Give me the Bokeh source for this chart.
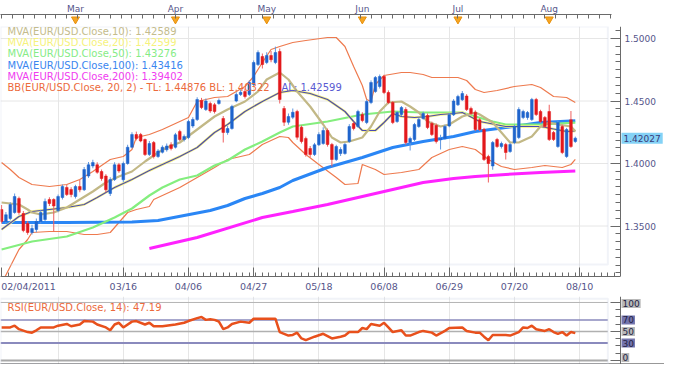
from bokeh.plotting import figure
from bokeh.models import (Range1d, FixedTicker, NumeralTickFormatter, Label, LinearAxis,
                          BoxAnnotation, ColumnDataSource)
from bokeh.layouts import column
from bokeh.embed import file_html
from bokeh.resources import INLINE

FONT = "DejaVu Sans"
AXIS_TEXT = "#55558a"

# ---------------- data (EUR/USD daily, 02/04/2011 .. 08/09/2011) ----------------
opens = [1.3632, 1.3536, 1.3560, 1.3608, 1.3720, 1.3600, 1.3520, 1.3448, 1.3472, 1.3536,
         1.3552, 1.3712, 1.3712, 1.3624, 1.3728, 1.3808, 1.3792, 1.3736, 1.3816, 1.3790,
         1.3900, 1.3980, 1.3990, 1.3936, 1.3900, 1.3760, 1.3872, 1.3990, 1.3870, 1.4000,
         1.4130, 1.4232, 1.4232, 1.4192, 1.4072, 1.4168, 1.4056, 1.4090, 1.4110, 1.4150,
         1.4130, 1.4256, 1.4192, 1.4208, 1.4300, 1.4352, 1.4504, 1.4432, 1.4480, 1.4470,
         1.4480, 1.4360, 1.4248, 1.4280, 1.4500, 1.4552, 1.4576, 1.4552, 1.4632, 1.4792,
         1.4856, 1.4808, 1.4864, 1.4808, 1.4896, 1.4440, 1.4330, 1.4370, 1.4416, 1.4290,
         1.4200, 1.4120, 1.4072, 1.4150, 1.4160, 1.4264, 1.4152, 1.4032, 1.4080, 1.4080,
         1.4176, 1.4320, 1.4296, 1.4392, 1.4328, 1.4488, 1.4576, 1.4616, 1.4696, 1.4568,
         1.4488, 1.4336, 1.4392, 1.4432, 1.4168, 1.4192, 1.4296, 1.4360, 1.4384, 1.4320,
         1.4304, 1.4190, 1.4200, 1.4300, 1.4390, 1.4470, 1.4510, 1.4540, 1.4440, 1.4410,
         1.4350, 1.4272, 1.4056, 1.3980, 1.4192, 1.4136, 1.4152, 1.4096, 1.4168, 1.4208,
         1.4368, 1.4368, 1.4352, 1.4512, 1.4416, 1.4368, 1.4416, 1.4248, 1.4136, 1.4296,
         1.4056, 1.4350, 1.4176]
highs = [1.3668, 1.3612, 1.3690, 1.3760, 1.3735, 1.3620, 1.3540, 1.3510, 1.3560, 1.3630,
         1.3720, 1.3730, 1.3722, 1.3752, 1.3832, 1.3830, 1.3810, 1.3830, 1.3868, 1.3972,
         1.4012, 1.4030, 1.4010, 1.3952, 1.3915, 1.3890, 1.4010, 1.4005, 1.4015, 1.4150,
         1.4250, 1.4255, 1.4245, 1.4200, 1.4180, 1.4180, 1.4115, 1.4145, 1.4160, 1.4170,
         1.4245, 1.4270, 1.4232, 1.4350, 1.4370, 1.4530, 1.4525, 1.4520, 1.4495, 1.4485,
         1.4520, 1.4380, 1.4300, 1.4470, 1.4570, 1.4590, 1.4600, 1.4665, 1.4825, 1.4905,
         1.4880, 1.4890, 1.4900, 1.4935, 1.4920, 1.4460, 1.4400, 1.4440, 1.4430, 1.4305,
         1.4215, 1.4140, 1.4165, 1.4250, 1.4290, 1.4280, 1.4165, 1.4150, 1.4130, 1.4165,
         1.4315, 1.4335, 1.4430, 1.4410, 1.4510, 1.4665, 1.4700, 1.4712, 1.4710, 1.4585,
         1.4500, 1.4420, 1.4460, 1.4450, 1.4215, 1.4325, 1.4365, 1.4415, 1.4400, 1.4335,
         1.4320, 1.4230, 1.4310, 1.4405, 1.4515, 1.4550, 1.4580, 1.4555, 1.4455, 1.4425,
         1.4365, 1.4285, 1.4070, 1.4180, 1.4205, 1.4175, 1.4165, 1.4165, 1.4310, 1.4450,
         1.4430, 1.4420, 1.4525, 1.4525, 1.4430, 1.4380, 1.4470, 1.4260, 1.4340, 1.4310,
         1.4285, 1.4420, 1.4215]
lows = [1.3520, 1.3515, 1.3545, 1.3598, 1.3590, 1.3450, 1.3430, 1.3432, 1.3450, 1.3520,
        1.3540, 1.3660, 1.3456, 1.3610, 1.3712, 1.3740, 1.3730, 1.3720, 1.3770, 1.3780,
        1.3885, 1.3962, 1.3918, 1.3862, 1.3770, 1.3740, 1.3860, 1.3925, 1.3850, 1.3990,
        1.4120, 1.4185, 1.4170, 1.4060, 1.4060, 1.4040, 1.4045, 1.4080, 1.4095, 1.4105,
        1.4120, 1.4180, 1.4176, 1.4195, 1.4285, 1.4340, 1.4435, 1.4420, 1.4405, 1.4400,
        1.4470, 1.4168, 1.4230, 1.4270, 1.4490, 1.4540, 1.4520, 1.4540, 1.4620, 1.4780,
        1.4760, 1.4795, 1.4810, 1.4795, 1.4480, 1.4300, 1.4310, 1.4355, 1.4190, 1.4160,
        1.4055, 1.4050, 1.4060, 1.4140, 1.4150, 1.4135, 1.3976, 1.4020, 1.4060, 1.4070,
        1.4165, 1.4265, 1.4285, 1.4330, 1.4315, 1.4475, 1.4565, 1.4600, 1.4555, 1.4475,
        1.4315, 1.4325, 1.4380, 1.4150, 1.4104, 1.4180, 1.4285, 1.4350, 1.4275, 1.4220,
        1.4160, 1.4112, 1.4190, 1.4290, 1.4380, 1.4460, 1.4500, 1.4420, 1.4390, 1.4260,
        1.4260, 1.4020, 1.3848, 1.3950, 1.4125, 1.4120, 1.4032, 1.4085, 1.4155, 1.4195,
        1.4355, 1.4350, 1.4340, 1.4380, 1.4325, 1.4285, 1.4180, 1.4180, 1.4125, 1.4075,
        1.4045, 1.4125, 1.4165]
closes = [1.3536, 1.3590, 1.3672, 1.3736, 1.3608, 1.3464, 1.3448, 1.3480, 1.3536, 1.3608,
          1.3696, 1.3680, 1.3660, 1.3736, 1.3816, 1.3752, 1.3752, 1.3816, 1.3790, 1.3952,
          1.3990, 1.4008, 1.3930, 1.3880, 1.3790, 1.3872, 1.3990, 1.3940, 1.4000, 1.4130,
          1.4232, 1.4200, 1.4180, 1.4072, 1.4160, 1.4056, 1.4100, 1.4130, 1.4140, 1.4120,
          1.4230, 1.4192, 1.4216, 1.4336, 1.4352, 1.4512, 1.4448, 1.4500, 1.4420, 1.4416,
          1.4504, 1.4248, 1.4280, 1.4456, 1.4552, 1.4570, 1.4536, 1.4648, 1.4808, 1.4888,
          1.4792, 1.4864, 1.4830, 1.4888, 1.4512, 1.4330, 1.4376, 1.4410, 1.4210, 1.4176,
          1.4072, 1.4072, 1.4150, 1.4232, 1.4264, 1.4152, 1.4032, 1.4136, 1.4112, 1.4152,
          1.4296, 1.4280, 1.4416, 1.4344, 1.4496, 1.4648, 1.4688, 1.4696, 1.4568, 1.4488,
          1.4328, 1.4408, 1.4448, 1.4168, 1.4200, 1.4312, 1.4352, 1.4400, 1.4288, 1.4232,
          1.4176, 1.4200, 1.4296, 1.4390, 1.4500, 1.4536, 1.4560, 1.4432, 1.4400, 1.4272,
          1.4272, 1.4032, 1.4000, 1.4168, 1.4136, 1.4160, 1.4088, 1.4152, 1.4296, 1.4432,
          1.4416, 1.4408, 1.4512, 1.4392, 1.4336, 1.4296, 1.4192, 1.4192, 1.4328, 1.4088,
          1.4272, 1.4136, 1.42027]

# indicator lines: (day index, value)
mva10_x = [0, 4, 6, 7, 9, 12, 15, 18, 21, 24, 27, 30, 33, 36, 38, 41, 45, 49, 52, 56, 59, 61,
           64, 66, 68, 71, 74, 76, 78, 80, 83, 85, 87, 89, 92, 94, 96, 98, 101, 103, 106, 109,
           110, 113, 115, 117, 119, 122, 124, 126, 128, 131, 132]
mva10_y = [1.3688, 1.3672, 1.3632, 1.3608, 1.3592, 1.3608, 1.3648, 1.3712, 1.3776, 1.3848,
           1.3896, 1.3936, 1.4016, 1.4088, 1.4128, 1.4168, 1.4272, 1.4376, 1.4432, 1.4496,
           1.4576, 1.4672, 1.4728, 1.4672, 1.4576, 1.4456, 1.4312, 1.4208, 1.4168, 1.4176,
           1.4208, 1.4296, 1.4416, 1.4488, 1.4496, 1.4456, 1.4408, 1.4336, 1.4296, 1.4312,
           1.4376, 1.4408, 1.4392, 1.4328, 1.4248, 1.4168, 1.4168, 1.4216, 1.4296, 1.4328,
           1.4312, 1.4296, 1.42589]
mva20_x = [0, 4, 7, 11, 15, 19, 22, 26, 30, 34, 41, 45, 49, 52, 56, 60, 64, 67, 71, 75, 79,
           81, 83, 86, 88, 90, 92, 95, 98, 101, 104, 106, 110, 116, 124, 130, 132]
mva20_y = [1.3472, 1.3576, 1.3616, 1.3632, 1.3648, 1.3672, 1.3728, 1.3808, 1.3872, 1.3944,
           1.4056, 1.4128, 1.4248, 1.4312, 1.4416, 1.4496, 1.4568, 1.4584, 1.4560, 1.4512,
           1.4416, 1.4336, 1.4264, 1.4264, 1.4328, 1.4400, 1.4376, 1.4368, 1.4376, 1.4392,
           1.4400, 1.4408, 1.4336, 1.4296, 1.4296, 1.4256, 1.42599]
mva50_x = [0, 7, 15, 21, 26, 30, 34, 37, 41, 45, 49, 52, 56, 60, 64, 67, 75, 83, 90, 97,
           106, 109, 113, 116, 124, 132]
mva50_y = [1.3312, 1.3376, 1.3416, 1.3488, 1.3568, 1.3640, 1.3744, 1.3808, 1.3872, 1.3904,
           1.3984, 1.4024, 1.4112, 1.4176, 1.4248, 1.4296, 1.4336, 1.4392, 1.4416, 1.4408,
           1.4408, 1.4376, 1.4336, 1.4312, 1.4312, 1.43276]
mva100_x = [0, 15, 30, 36, 42, 48, 52, 56, 60, 64, 67, 75, 83, 90, 97, 104, 109, 116, 124, 132]
mva100_y = [1.3528, 1.3528, 1.3532, 1.3544, 1.3584, 1.3624, 1.3664, 1.3720, 1.3760, 1.3808,
            1.3864, 1.3968, 1.4048, 1.4128, 1.4176, 1.4216, 1.4256, 1.4288, 1.4328, 1.43416]
mva200_x = [34, 45, 60, 67, 75, 83, 90, 97, 104, 109, 116, 124, 132]
mva200_y = [1.3320, 1.3408, 1.3568, 1.3616, 1.3672, 1.3736, 1.3792, 1.3848, 1.3880, 1.3896,
            1.3912, 1.3928, 1.39402]
bb_up_x = [0, 2, 4, 7, 11, 15, 18, 21, 25, 28, 30, 31, 34, 37, 41, 43, 45, 49, 52, 56, 58,
           60, 62, 64, 67, 70, 75, 77, 79, 81, 83, 84, 85, 86, 88, 92, 94, 97, 99, 103, 105,
           107, 109, 111, 114, 118, 122, 124, 127, 130, 132]
bb_up_y = [1.4008, 1.3952, 1.3888, 1.3832, 1.3816, 1.3832, 1.3872, 1.3936, 1.4032, 1.4056,
           1.4112, 1.4208, 1.4232, 1.4272, 1.4336, 1.4368, 1.4496, 1.4528, 1.4536, 1.4616,
           1.4696, 1.4808, 1.4912, 1.4936, 1.4968, 1.4984, 1.5008, 1.5008, 1.4936, 1.4776,
           1.4624, 1.4512, 1.4496, 1.4632, 1.4704, 1.4728, 1.4728, 1.4712, 1.4688, 1.4688,
           1.4688, 1.4664, 1.4592, 1.4568, 1.4584, 1.4616, 1.4632, 1.4608, 1.4536, 1.4528,
           1.44876]
bb_lo_x = [0, 2, 4, 6, 7, 11, 15, 19, 22, 25, 27, 29, 31, 34, 35, 41, 45, 49, 52, 57, 60, 64,
           66, 67, 70, 73, 77, 79, 82, 83, 86, 88, 92, 96, 99, 103, 106, 109, 112, 115, 118,
           122, 125, 129, 131, 132]
bb_lo_y = [1.3040, 1.3176, 1.3312, 1.3392, 1.3448, 1.3456, 1.3456, 1.3432, 1.3432, 1.3448,
           1.3528, 1.3608, 1.3632, 1.3656, 1.3712, 1.3808, 1.3888, 1.3968, 1.4032, 1.4072,
           1.4152, 1.4216, 1.4208, 1.4168, 1.4072, 1.3992, 1.3888, 1.3832, 1.3840, 1.3992,
           1.3952, 1.3912, 1.3928, 1.3952, 1.4048, 1.4112, 1.4136, 1.4112, 1.4032, 1.3976,
           1.3952, 1.3968, 1.3984, 1.3968, 1.3992, 1.40322]
rsi_x = [0, 2, 3, 4, 6, 7, 8, 9, 12, 13, 15, 16, 18, 19, 21, 22, 24, 25, 26, 27, 28, 30, 31,
         33, 34, 35, 37, 40, 42, 43, 45, 46, 47, 48, 49, 50, 51, 52, 53, 55, 57, 58, 60, 63,
         64, 66, 67, 68, 69, 70, 72, 74, 76, 78, 79, 80, 82, 83, 84, 85, 87, 88, 89, 90, 92,
         93, 94, 96, 97, 99, 100, 102, 103, 106, 107, 109, 110, 111, 112, 113, 116, 117, 119,
         120, 121, 122, 123, 125, 126, 127, 128, 129, 130, 131, 132]
rsi_y = [57, 57, 60, 54, 49, 48, 52, 57, 57, 60, 63, 59, 62, 68, 67, 62, 57, 52, 62, 65, 57,
         67, 68, 62, 65, 59, 59, 62, 65, 68, 73, 75, 70, 71, 70, 67, 54, 57, 63, 67, 65, 72,
         72, 72, 49, 43, 44, 48, 38, 35, 41, 46, 38, 41, 43, 49, 49, 56, 54, 63, 60, 65, 57,
         49, 52, 43, 43, 49, 51, 48, 43, 51, 56, 57, 51, 48, 48, 41, 35, 44, 44, 43, 49, 57,
         56, 60, 54, 51, 54, 49, 46, 49, 43, 49, 47.19]

x_tick_idx = [0, 13, 28, 43, 58, 73, 88, 103, 118, 133]
date_label_pos = [6.2, 28, 43, 58, 73, 88, 103, 118, 133]
date_labels = ["02/04/2011", "03/16", "04/06", "04/27", "05/18", "06/08", "06/29",
               "07/20", "08/10"]
month_idx = [17, 40, 61, 83, 105, 126]
month_labels = ["Mar", "Apr", "May", "Jun", "Jul", "Aug"]
price_ticks = [1.35, 1.40, 1.45, 1.50]
rsi_levels = [100, 70, 50, 30, 0]

legend_rows = [
    ("MVA(EUR/USD.Close,10): 1.42589", "#c4bc8c"),
    ("MVA(EUR/USD.Close,20): 1.42599", "#f6f27c"),
    ("MVA(EUR/USD.Close,50): 1.43276", "#86ec86"),
    ("MVA(EUR/USD.Close,100): 1.43416", "#3a86f0"),
    ("MVA(EUR/USD.Close,200): 1.39402", "#f03cf0"),
    ("BB(EUR/USD.Close, 20, 2) -  TL: 1.44876  BL: 1.40322", "#ec6a3c"),
]

# ---------------- layout constants ----------------
FRAME_W = 664
X_LO, X_HI = -0.25, 142.4          # X_HI = position of the price axis line
AREA_RIGHT = 139.5                 # right border of the plotting area
X_END = X_LO + FRAME_W * (X_HI - X_LO) / 620.0
x_range = Range1d(X_LO, X_END)
GRID = "#e6e6e6"
AXC = "#6a6a6a"


def style_common(f):
    f.outline_line_color = None
    f.background_fill_color = "white"
    f.border_fill_color = "white"


# ---------------- top strip with months ----------------
top = figure(frame_width=FRAME_W, frame_height=12, x_range=x_range, y_range=Range1d(0, 1),
             x_axis_location="above", y_axis_location=None, toolbar_location=None,
             output_backend="svg", min_border_left=0, min_border_right=0,
             min_border_top=0, min_border_bottom=0)
style_common(top)
top.grid.visible = False
ta = top.xaxis[0]
ta.bounds = (X_LO, 140.4)
ta.ticker = FixedTicker(ticks=month_idx, minor_ticks=[i * 2.5 for i in range(0, 57)])
ta.major_label_overrides = {m: lab for m, lab in zip(month_idx, month_labels)}
ta.major_tick_in = 0
ta.major_tick_out = 0
ta.minor_tick_in = 4
ta.minor_tick_out = 0
ta.axis_line_color = AXC
ta.minor_tick_line_color = AXC
ta.major_label_text_font = FONT
ta.major_label_text_font_size = "9px"
ta.major_label_text_color = AXIS_TEXT
ta.major_label_standoff = 1
top.scatter(x=month_idx, y=[0.6] * len(month_idx), marker="inverted_triangle", size=8,
            fill_color="#f6a623", line_color="#e8900c")

# ---------------- main price chart ----------------
p = figure(frame_width=FRAME_W, frame_height=250, x_range=x_range,
           y_range=Range1d(1.3096, 1.5096), y_axis_location="right",
           toolbar_location=None, output_backend="svg", min_border_left=0,
           min_border_right=0, min_border_top=0, min_border_bottom=0)
style_common(p)
p.xgrid.ticker = FixedTicker(ticks=x_tick_idx[1:])
p.xgrid.grid_line_color = GRID
p.ygrid.visible = False
p.segment(x0=[X_LO] * len(price_ticks), x1=[AREA_RIGHT] * len(price_ticks),
          y0=price_ticks, y1=price_ticks, line_color=GRID, line_width=1)

ya = p.yaxis[0]
ya.fixed_location = X_HI
ya.ticker = FixedTicker(ticks=price_ticks,
                        minor_ticks=[1.3125 + k * 0.00625 for k in range(32)])
ya.formatter = NumeralTickFormatter(format="0.0000")
ya.major_tick_in = 10
ya.major_tick_out = 0
ya.minor_tick_in = 5
ya.minor_tick_out = 0
ya.axis_line_color = AXC
ya.major_tick_line_color = AXC
ya.minor_tick_line_color = AXC
ya.major_label_text_font = FONT
ya.major_label_text_font_size = "9px"
ya.major_label_text_color = AXIS_TEXT
ya.major_label_standoff = 4

xa = p.xaxis[0]
xa.bounds = (X_LO, X_HI)
xa.ticker = FixedTicker(ticks=x_tick_idx, minor_ticks=[i * 1.5 for i in range(0, 95)])
xa.major_label_overrides = {t: "" for t in x_tick_idx}
xa.major_label_text_font_size = "0px"
xa.major_label_standoff = 0
xa.major_tick_in = 9
xa.major_tick_out = 0
xa.minor_tick_in = 4
xa.minor_tick_out = 0
xa.axis_line_color = AXC
xa.major_tick_line_color = AXC
xa.minor_tick_line_color = AXC

xl = LinearAxis(ticker=FixedTicker(ticks=date_label_pos),
                major_label_overrides={t: lab for t, lab in zip(date_label_pos, date_labels)},
                axis_line_color=None, major_tick_line_color=None, minor_tick_line_color=None,
                major_tick_in=0, major_tick_out=0, minor_tick_in=0, minor_tick_out=0,
                major_label_standoff=4, major_label_text_font=FONT,
                major_label_text_font_size="9.5px", major_label_text_color=AXIS_TEXT)
p.add_layout(xl, "below")

p.add_layout(BoxAnnotation(left=X_LO, right=AREA_RIGHT, bottom=1.3192, top=1.5096,
                           fill_color=None, line_color="#cfd8e8", line_width=2))

p.line(bb_up_x, bb_up_y, line_color="#ee7a4e", line_width=1.2)
p.line(bb_lo_x, bb_lo_y, line_color="#ee7a4e", line_width=1.2)
p.line(mva200_x, mva200_y, line_color="#ff22ff", line_width=3)
p.line(mva100_x, mva100_y, line_color="#2a86f5", line_width=3)
p.line(mva50_x, mva50_y, line_color="#84ee7e", line_width=2.2)
p.line(mva20_x, mva20_y, line_color="#f6f27c", line_width=2.5)
p.line(mva20_x, mva20_y, line_color="#4a4ab0", line_width=1.2)
p.line(mva10_x, mva10_y, line_color="#c2b886", line_width=2.2)

idx = list(range(len(closes)))
up = [c >= o for o, c in zip(opens, closes)]
src = ColumnDataSource(dict(
    x=idx, o=opens, h=highs, l=lows, c=closes,
    top=[max(o, c) for o, c in zip(opens, closes)],
    bot=[min(o, c) for o, c in zip(opens, closes)],
    body=["#1f64cc" if u else "#e3191c" for u in up],
    wick=["#5f97e0" if u else "#ef6060" for u in up],
))
p.segment(x0="x", y0="l", x1="x", y1="h", source=src, line_color="wick", line_width=1)
p.vbar(x="x", width=0.62, top="top", bottom="bot", source=src,
       fill_color="body", line_color="body", line_width=0.5)

row_h = 11.2
for i, (txt, col) in enumerate(legend_rows):
    p.add_layout(Label(x=7, y=245 - i * row_h, x_units="screen", y_units="screen",
                       text=txt, text_color=col, text_font=FONT, text_font_size="10px",
                       text_baseline="middle"))
p.add_layout(Label(x=281, y=245 - 5 * row_h, x_units="screen", y_units="screen",
                   text="AL: 1.42599", text_color="#5a5ad2", text_font=FONT,
                   text_font_size="10px", text_baseline="middle"))

p.add_layout(Label(x=X_HI, y=closes[-1], text="%.5f" % closes[-1], x_offset=1,
                   text_baseline="middle", text_font=FONT, text_font_size="9px",
                   text_color="#3a3a78", background_fill_color="#84d2f6", padding=2))

# ---------------- RSI panel ----------------
r = figure(frame_width=FRAME_W, frame_height=68, x_range=x_range,
           y_range=Range1d(-6.9, 110.3), y_axis_location="right",
           toolbar_location=None, output_backend="svg", min_border_left=0,
           min_border_right=0, min_border_top=2, min_border_bottom=0)
style_common(r)
r.xgrid.ticker = FixedTicker(ticks=x_tick_idx[1:])
r.xgrid.grid_line_color = GRID
r.ygrid.visible = False
rxa = r.xaxis[0]
rxa.ticker = FixedTicker(ticks=[])
rxa.major_tick_out = 0
rxa.minor_tick_out = 0
rxa.major_label_standoff = 0
rxa.axis_line_color = "#333333"
rxa.axis_line_width = 2
rya = r.yaxis[0]
rya.fixed_location = X_HI
rya.ticker = FixedTicker(ticks=[0, 50, 100], minor_ticks=[12.5, 25, 37.5, 62.5, 75, 87.5])
rya.major_label_overrides = {0: "", 50: "", 100: ""}
rya.major_label_text_font_size = "0px"
rya.major_tick_in = 10
rya.major_tick_out = 0
rya.minor_tick_in = 5
rya.minor_tick_out = 0
rya.axis_line_color = AXC
rya.major_tick_line_color = AXC
rya.minor_tick_line_color = AXC

r.add_layout(BoxAnnotation(left=X_LO, right=AREA_RIGHT, bottom=-6.9, top=106.3,
                           fill_color=None, line_color="#cfd8e8", line_width=2))
level_colors = ["#b4b4b4", "#8a8abd", "#b0b0b0", "#8a8abd", "#a8a8a8"]
level_widths = [1, 1.5, 1.5, 2, 2]
r.segment(x0=[X_LO] * len(rsi_levels), x1=[AREA_RIGHT] * len(rsi_levels),
          y0=rsi_levels, y1=rsi_levels, line_color=level_colors, line_width=level_widths)
r.line(rsi_x, rsi_y, line_color="#e8501c", line_width=2.5)

box_colors = ["#b9b9b9", "#7474ac", "#b9b9b9", "#7474ac", "#b9b9b9"]
box_nudge = [-1, 0, 0, 0, 3]
for lvl, bc, dy in zip(rsi_levels, box_colors, box_nudge):
    r.add_layout(Label(x=X_HI, y=lvl, text=str(lvl), x_offset=1, y_offset=dy,
                       text_baseline="middle", text_font=FONT, text_font_size="9px",
                       text_color="#222244", background_fill_color=bc, padding=1))
r.add_layout(Label(x=7, y=57, x_units="screen", y_units="screen",
                   text="RSI(EUR/USD.Close, 14): %.2f" % rsi_y[-1], text_color="#ec6a3c",
                   text_font=FONT, text_font_size="10px", text_baseline="middle"))

layout = column(top, p, r, spacing=0)
open("out.html", "w").write(file_html(layout, INLINE))
